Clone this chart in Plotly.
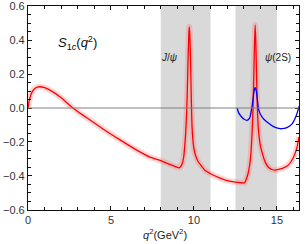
import plotly.graph_objects as go

# Red curve: S_1c(q^2) central values
q_red = [0.0, 0.1, 0.25, 0.45, 0.7, 1.0, 1.5, 2.0, 2.7, 3.5, 4.5, 5.5, 6.5, 7.35, 8.0, 8.5,
         9.0, 9.1, 9.2, 9.3, 9.38, 9.45, 9.5, 9.55, 9.6, 9.65, 9.69, 9.72, 9.75, 9.79, 9.84,
         9.88, 9.93, 10.0, 10.1, 10.25, 10.4, 10.7, 11.0, 11.5, 12.0, 12.5, 12.9, 13.05,
         13.15, 13.25, 13.35, 13.43, 13.5, 13.56, 13.61, 13.65, 13.69, 13.73, 13.77, 13.82,
         13.88, 14.0, 14.1, 14.3, 14.5, 14.7, 14.9, 15.1, 15.4, 15.7, 16.0, 16.2, 16.33]
s_red = [0.0, 0.055, 0.095, 0.118, 0.125, 0.12, 0.095, 0.06, 0.0, -0.055, -0.122, -0.185, -0.245, -0.289, -0.31, -0.33,
         -0.35, -0.352, -0.345, -0.325, -0.29, -0.22, -0.15, -0.05, 0.1, 0.3, 0.43, 0.478, 0.43, 0.3, 0.05,
         -0.1, -0.18, -0.24, -0.28, -0.315, -0.335, -0.37, -0.387, -0.41, -0.427, -0.436, -0.44, -0.44,
         -0.42, -0.39, -0.34, -0.27, -0.15, 0.0, 0.2, 0.38, 0.488, 0.38, 0.2, 0.0,
         -0.12, -0.22, -0.26, -0.32, -0.35, -0.362, -0.366, -0.362, -0.352, -0.335, -0.29, -0.235, -0.17]

# Blue curve
q_blue = [12.6, 12.7, 12.85, 13.0, 13.2, 13.35, 13.47, 13.56, 13.62, 13.69, 13.76, 13.82, 13.9,
          14.0, 14.2, 14.5, 14.8, 15.1, 15.3, 15.6, 15.9, 16.1, 16.25, 16.33]
s_blue = [0.0, -0.03, -0.05, -0.065, -0.073, -0.06, -0.01, 0.05, 0.1, 0.12, 0.1, 0.05, -0.01,
          -0.035, -0.065, -0.09, -0.11, -0.12, -0.122, -0.115, -0.095, -0.06, -0.02, 0.01]

# Vetoed resonance regions
band_lo = [8.0, 12.5]
band_hi = [11.0, 15.0]

# Labels
label_text = ["<i>J</i>/<i>ψ</i>", "<i>ψ</i>(2S)"]
label_q = [8.55, 15.05]
label_s = [0.3, 0.3]

x_ticks = [0, 5, 10, 15]
y_ticks = [-0.6, -0.4, -0.2, 0.0, 0.2, 0.4, 0.6]

fig = go.Figure()

for lo, hi in zip(band_lo, band_hi):
    fig.add_vrect(x0=lo, x1=hi, fillcolor="#d9d9d9", opacity=1, line_width=0, layer="below")

fig.add_hline(y=0, line_color="#808080", line_width=1)

fig.add_trace(go.Scatter(x=q_red, y=s_red, mode="lines",
                         line=dict(color="rgba(255,120,120,0.3)", width=6, shape="spline", smoothing=0.6),
                         hoverinfo="skip"))
fig.add_trace(go.Scatter(x=q_red, y=s_red, mode="lines",
                         line=dict(color="#ff0000", width=1.3, shape="spline", smoothing=0.6)))
fig.add_trace(go.Scatter(x=q_blue, y=s_blue, mode="lines",
                         line=dict(color="#0000ff", width=1.3, shape="spline", smoothing=0.6)))

for t, xq, ys in zip(label_text, label_q, label_s):
    fig.add_annotation(x=xq, y=ys, text=t, showarrow=False,
                       font=dict(size=10, color="#222222", family="Liberation Sans"))

fig.add_annotation(x=2.98, y=0.385, text="<i>S</i><sub>1<i>c</i></sub>(<i>q</i><sup>2</sup>)",
                   showarrow=False, font=dict(size=13, color="#111111", family="Liberation Sans"))

fig.add_annotation(xref="paper", yref="paper", x=0.505, y=-0.118, yanchor="middle",
                   text="<i>q</i><sup>2</sup>(GeV<sup>2</sup>)", showarrow=False,
                   font=dict(size=11, color="#222222", family="Liberation Sans"))

axis_common = dict(showline=True, linecolor="#111111", linewidth=1.2, mirror="allticks",
                   ticks="inside", ticklen=4, tickwidth=1, tickcolor="#111111",
                   showgrid=False, zeroline=False, automargin=False, ticklabeloverflow="allow",
                   tickfont=dict(size=11, color="#333333", family="Liberation Sans"))

fig.update_xaxes(range=[0, 16.33], tickvals=x_ticks, ticktext=[str(v) for v in x_ticks],
                 minor=dict(dtick=1, tick0=0, ticks="inside", ticklen=2.5, tickcolor="#111111", showgrid=False),
                 **axis_common)
fig.update_yaxes(range=[-0.6005, 0.6005], tickvals=y_ticks, tickformat=".1f",
                 minor=dict(dtick=0.05, tick0=0, ticks="inside", ticklen=2.5, tickcolor="#111111", showgrid=False),
                 **axis_common)

fig.update_layout(width=305, height=244, margin=dict(l=28, r=6, t=6, b=34, autoexpand=False),
                  plot_bgcolor="white", paper_bgcolor="white", showlegend=False)

fig.write_html("out.html", config={"displayModeBar": False},
               post_script="document.body.style.margin='0';document.body.style.padding='0';document.body.style.overflow='hidden';")
